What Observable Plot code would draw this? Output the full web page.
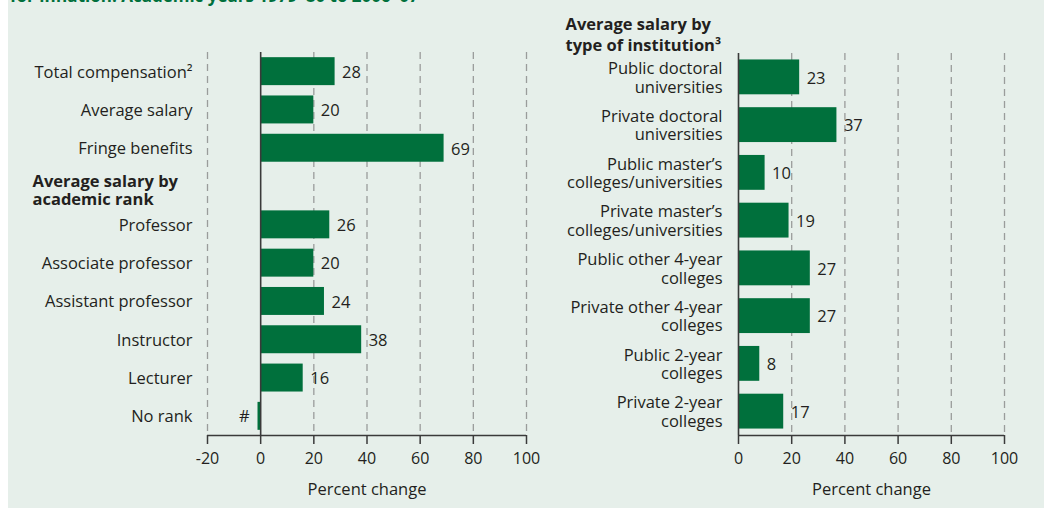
<!DOCTYPE html>
<html>
<head>
<meta charset="utf-8">
<script src="https://cdn.jsdelivr.net/npm/d3@7"></script>
<script src="https://cdn.jsdelivr.net/npm/@observablehq/plot@0.6"></script>
<style>
  html, body { margin: 0; padding: 0; background: #ffffff; }
  #wrap { position: relative; width: 1044px; height: 508px; overflow: hidden; font-family: "Open Sans", sans-serif; }
  #bg { position: absolute; left: 8px; top: 0; width: 1036px; height: 508px; background: #e6efea; }
  #title { position: absolute; left: 10px; top: -13px; font-size: 17px; line-height: 17px; font-weight: bold; color: #00703c; white-space: nowrap; }
  #left, #right { position: absolute; top: 0; }
  #left { left: 0; }
  #right { left: 540px; }
</style>
</head>
<body>
<div id="wrap">
  <div id="bg"></div>
  <div id="title">for inflation: Academic years 1979–80 to 2006–07</div>
  <div id="left"></div>
  <div id="right"></div>
</div>
<script>
// ---- Data ----
const leftCategories = ["Total compensation²", "Average salary", "Fringe benefits", "", "Professor", "Associate professor", "Assistant professor", "Instructor", "Lecturer", "No rank"];
const leftValues = [28, 20, 69, null, 26, 20, 24, 38, 16, -1];
const leftValueLabels = ["28", "20", "69", "", "26", "20", "24", "38", "16", "#"];
const leftHeading = "Average salary by\nacademic rank";
const leftHeadingRow = 3;
const leftTicks = [-20, 0, 20, 40, 60, 80, 100];

const rightCategories = ["Public doctoral\nuniversities", "Private doctoral\nuniversities", "Public master’s\ncolleges/universities", "Private master’s\ncolleges/universities", "Public other 4-year\ncolleges", "Private other 4-year\ncolleges", "Public 2-year\ncolleges", "Private 2-year\ncolleges"];
const rightValues = [23, 37, 10, 19, 27, 27, 8, 17];
const rightValueLabels = ["23", "37", "10", "19", "27", "27", "8", "17"];
const rightHeading = "Average salary by\ntype of institution³";
const rightTicks = [0, 20, 40, 60, 80, 100];

const axisLabel = "Percent change";

// ---- Styles ----
const GREEN = "#00703c";
const INK = "#231f20";
const GRID = "#9a9c9b";
const FONT = 16.5;

function panel({cats, vals, labs, ticks, xDomain, width, marginLeft, marginRight, marginTop, marginBottom, heading, headingRow, headingDx, headingDy, headingLH, labelDx}) {
  const n = cats.length;
  const rows = cats.map((c, i) => ({i, cat: c, value: vals[i], lab: labs[i]}));
  const bars = rows.filter(d => d.value != null);
  const half = 0.365;
  return Plot.plot({
    width, height: 508,
    marginLeft, marginRight, marginTop, marginBottom,
    style: {fontFamily: "Open Sans, sans-serif", fontSize: FONT + "px", color: INK, background: "transparent", overflow: "visible"},
    x: {domain: xDomain},
    y: {domain: [-0.5, n - 0.5], reverse: true, axis: null},
    marks: [
      Plot.ruleX(ticks.filter(t => t !== 0), {stroke: GRID, strokeWidth: 1.3, strokeDasharray: "7,5"}),
      Plot.rectX(bars, {x1: 0, x2: "value", y1: d => d.i - half, y2: d => d.i + half, fill: GREEN}),
      Plot.ruleX([0], {stroke: "#3a3a3a", strokeWidth: 1.6}),
      Plot.ruleY([n - 0.5], {stroke: "#3a3a3a", strokeWidth: 1.6}),
      Plot.axisX({ticks, tickSize: 9, tickPadding: 8, fontSize: 16, stroke: "#3a3a3a", strokeWidth: 1.5, label: null, tickFormat: d => String(d)}),
      Plot.text(bars.filter(d => d.value >= 0), {x: "value", y: "i", text: "lab", textAnchor: "start", dx: 7, dy: 1, fontSize: FONT, fill: INK}),
      Plot.text(bars.filter(d => d.value < 0), {x: 0, y: "i", text: "lab", textAnchor: "end", dx: -11, fontSize: FONT, fill: INK}),
      Plot.text(rows.filter(d => d.cat !== ""), {x: xDomain[0], y: "i", text: "cat", textAnchor: "end", dx: labelDx, fontSize: FONT, lineHeight: 1.12, fill: INK}),
      Plot.text([heading], {x: xDomain[0], y: headingRow, text: d => d, textAnchor: "start", dx: headingDx, dy: headingDy, fontSize: FONT, fontWeight: "bold", lineHeight: headingLH, fill: INK}),
      Plot.text([axisLabel], {frameAnchor: "bottom", text: d => d, dy: 59, fontSize: FONT, fill: INK})
    ]
  });
}

document.getElementById("left").appendChild(panel({
  cats: leftCategories, vals: leftValues, labs: leftValueLabels, ticks: leftTicks,
  xDomain: [-20, 100], width: 540, marginLeft: 207, marginRight: 14, marginTop: 52, marginBottom: 73,
  heading: leftHeading, headingRow: leftHeadingRow, headingDx: -175, headingDy: 4, headingLH: 1.08, labelDx: -15
}));

document.getElementById("right").appendChild(panel({
  cats: rightCategories, vals: rightValues, labs: rightValueLabels, ticks: rightTicks,
  xDomain: [0, 100], width: 504, marginLeft: 198, marginRight: 40, marginTop: 53, marginBottom: 73,
  heading: rightHeading, headingRow: -1, headingDx: -173, headingDy: 4, headingLH: 1.25, labelDx: -16
}));
</script>
</body>
</html>
